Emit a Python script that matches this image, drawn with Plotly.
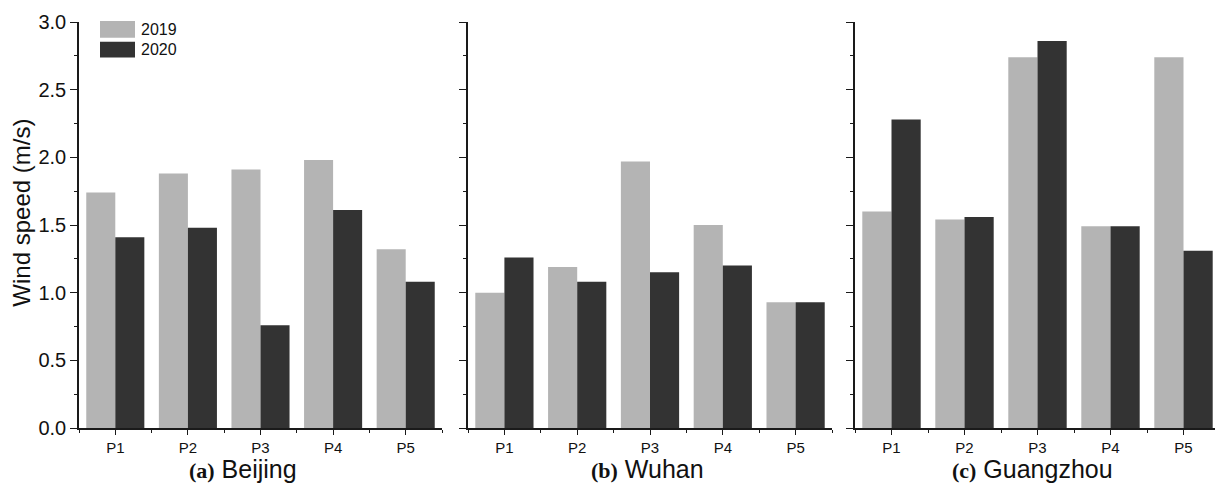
import plotly.graph_objects as go

categories = ["P1", "P2", "P3", "P4", "P5"]
cities = ["Beijing", "Wuhan", "Guangzhou"]
panel_letters = ["(a)", "(b)", "(c)"]
years = ["2019", "2020"]

beijing_2019 = [1.74, 1.88, 1.91, 1.98, 1.32]
beijing_2020 = [1.41, 1.48, 0.76, 1.61, 1.08]
wuhan_2019 = [1.00, 1.19, 1.97, 1.50, 0.93]
wuhan_2020 = [1.26, 1.08, 1.15, 1.20, 0.93]
guangzhou_2019 = [1.60, 1.54, 2.74, 1.49, 2.74]
guangzhou_2020 = [2.28, 1.56, 2.86, 1.49, 1.31]

y_ticks = [0.0, 0.5, 1.0, 1.5, 2.0, 2.5, 3.0]

series = [
    (beijing_2019, beijing_2020),
    (wuhan_2019, wuhan_2020),
    (guangzhou_2019, guangzhou_2020),
]

color_2019 = "#b4b4b4"
color_2020 = "#333333"
axis_col = "#1a1a1a"
sans = "Liberation Sans, Arial, sans-serif"

# the page adds an 8px body margin; compensate so the figure fills 1223x487
OFF = 8
W, H = 1223 - OFF, 487 - OFF
ML, MR, MT, MB = 79 - OFF, 3, 17 - OFF, 59
PW = W - ML - MR
PH = H - MT - MB

def px_x(p):
    return (p - OFF - ML) / PW

def px_y(p):
    return (H - MB - (p - OFF)) / PH

domains = [
    [0.0, px_x(442)],
    [px_x(468), px_x(832)],
    [px_x(855), 1.0],
]

xpos = list(range(len(categories)))

fig = go.Figure()
for i, (s19, s20) in enumerate(series):
    suffix = "" if i == 0 else str(i + 1)
    fig.add_trace(go.Bar(x=xpos, y=s19, name=years[0], marker=dict(color=color_2019, line=dict(width=0)),
                         xaxis="x" + suffix, yaxis="y" + suffix, showlegend=False))
    fig.add_trace(go.Bar(x=xpos, y=s20, name=years[1], marker=dict(color=color_2020, line=dict(width=0)),
                         xaxis="x" + suffix, yaxis="y" + suffix, showlegend=False))

layout = dict(
    width=W, height=H,
    margin=dict(l=ML, r=MR, t=MT, b=MB),
    paper_bgcolor="white", plot_bgcolor="white",
    barmode="group", bargap=0.2, bargroupgap=0,
    font=dict(family=sans, color="#111"),
)

for i in range(3):
    suffix = "" if i == 0 else str(i + 1)
    layout["xaxis" + suffix] = dict(
        domain=domains[i], anchor="y" + suffix,
        range=[-0.5, 4.5], tickmode="array", tickvals=xpos, ticktext=categories,
        showline=True, linecolor=axis_col, linewidth=1.6,
        ticks="outside", ticklen=5, tickwidth=1.4, tickcolor=axis_col,
        minor=dict(tickmode="linear", tick0=-0.5, dtick=1, ticks="outside", ticklen=3,
                   tickwidth=1.2, tickcolor=axis_col),
        showgrid=False, zeroline=False, ticklabeloverflow="allow",
        tickfont=dict(size=15, family=sans, color="#111"),
    )
    layout["yaxis" + suffix] = dict(
        domain=[0, 1], anchor="x" + suffix,
        range=[0, 3.0], tickmode="array", tickvals=y_ticks,
        ticktext=["%.1f" % v for v in y_ticks],
        showticklabels=(i == 0),
        showline=True, linecolor=axis_col, linewidth=1.6,
        ticks="outside", ticklen=7, tickwidth=1.4, tickcolor=axis_col,
        minor=dict(tickmode="linear", tick0=0, dtick=0.25, ticks="outside", ticklen=3.5,
                   tickwidth=1.2, tickcolor=axis_col),
        showgrid=False, zeroline=False, ticklabeloverflow="allow",
        tickfont=dict(size=20, family=sans, color="#111"),
    )

fig.update_layout(**layout)

annotations = []
# y-axis title
annotations.append(dict(
    text="Wind speed (m/s)", xref="paper", yref="paper",
    x=px_x(22), y=px_y(210), xanchor="center", yanchor="middle",
    textangle=-90, showarrow=False, font=dict(size=24, family=sans, color="#111"),
))
# panel subtitles
centers = [243, 647, 1032]
for i in range(3):
    annotations.append(dict(
        text='<span style="font-family:Liberation Serif;font-weight:bold;font-size:22px">%s</span> %s' % (
            panel_letters[i], cities[i]),
        xref="paper", yref="paper", x=px_x(centers[i]), y=px_y(470),
        xanchor="center", yanchor="middle", showarrow=False,
        font=dict(size=25, family=sans, color="#111"),
    ))

# legend
shapes = []
legend_rows = [(16, 33, color_2019, years[0]), (37, 53, color_2020, years[1])]
for (y0, y1, col, label) in legend_rows:
    shapes.append(dict(type="rect", xref="paper", yref="paper",
                       x0=px_x(100), x1=px_x(135), y0=px_y(y1), y1=px_y(y0),
                       fillcolor=col, line=dict(width=0)))
    annotations.append(dict(text=label, xref="paper", yref="paper",
                            x=px_x(139), y=px_y((y0 + y1) / 2), xanchor="left", yanchor="middle",
                            showarrow=False, font=dict(size=16, family=sans, color="#111")))

fig.update_layout(annotations=annotations, shapes=shapes)

fig.write_html("out.html")
